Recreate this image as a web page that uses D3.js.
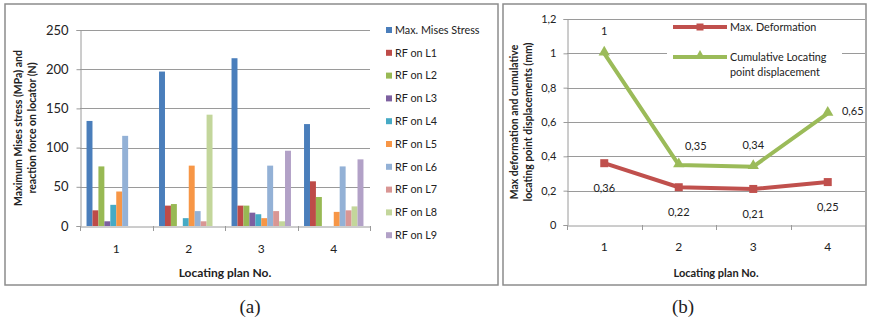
<!DOCTYPE html>
<html>
<head>
<meta charset="utf-8">
<script src="https://cdn.jsdelivr.net/npm/d3@7"></script>
<style>
  html, body { margin: 0; padding: 0; background: #fff; }
  svg { display: block; }
  text { font-family: Lato, "Open Sans", sans-serif; fill: #222; }
  text.caption { font-family: "Liberation Serif", "Times New Roman", serif; }
</style>
</head>
<body>
<svg id="chart" width="869" height="320"></svg>
<script>
// ---- data: panel (a) ----
const plans = ["1", "2", "3", "4"];
const barSeries = ["Max. Mises Stress", "RF on L1", "RF on L2", "RF on L3", "RF on L4",
                   "RF on L5", "RF on L6", "RF on L7", "RF on L8", "RF on L9"];
const maxMises = [134, 197, 214, 130];
const rfL1 = [20, 26, 26, 57];
const rfL2 = [76, 28, 26, 37];
const rfL3 = [6, 0, 17, 0];
const rfL4 = [27, 10, 15, 0];
const rfL5 = [44, 77, 10, 18];
const rfL6 = [115, 19, 77, 76];
const rfL7 = [0, 6, 19, 20];
const rfL8 = [0, 142, 6, 25];
const rfL9 = [0, 0, 96, 85];
const barTicks = [0, 50, 100, 150, 200, 250];

// ---- data: panel (b) ----
const lineSeries = ["Max. Deformation", "Cumulative Locating point displacement"];
const maxDeformation = [0.36, 0.22, 0.21, 0.25];
const cumulativeDisp = [1, 0.35, 0.34, 0.65];
const lineTicks = [0, 0.2, 0.4, 0.6, 0.8, 1, 1.2];

// ---- styling ----
const barColors = ["#4a7ebb", "#be4b48", "#98b954", "#7d60a0", "#46aac5",
                   "#f79646", "#93b1d6", "#d99694", "#c3d69b", "#b2a1c7"];
const lineColors = ["#c0504d", "#9bbb59"];
const gridColor = "#9a9a9a";
const frameColor = "#8c8c8c";

const svg = d3.select("#chart");
const comma = d3.formatLocale({ decimal: ",", thousands: ".", grouping: [3], currency: ["", ""] });
const fmt = v => comma.format("~g")(v);

// panel frames
svg.append("rect").attr("x", 5).attr("y", 4).attr("width", 493).attr("height", 281)
  .attr("fill", "none").attr("stroke", frameColor).attr("stroke-width", 1.5);
svg.append("rect").attr("x", 503).attr("y", 4).attr("width", 363).attr("height", 281)
  .attr("fill", "none").attr("stroke", frameColor).attr("stroke-width", 1.5);

// ================= panel (a): grouped bars =================
const barValues = [maxMises, rfL1, rfL2, rfL3, rfL4, rfL5, rfL6, rfL7, rfL8, rfL9];
const xA = d3.scaleBand().domain(plans).range([80, 370]);
const xA1 = d3.scaleBand().domain(barSeries).range([0, xA.bandwidth()])
  .paddingInner(0).paddingOuter(1.1);
const yA = d3.scaleLinear().domain([0, 250]).range([226, 30]);

const gA = svg.append("g");
// gridlines
gA.append("g").selectAll("line").data(barTicks.filter(t => t > 0)).join("line")
  .attr("x1", 80).attr("x2", 370)
  .attr("y1", d => Math.round(yA(d)) + 0.5).attr("y2", d => Math.round(yA(d)) + 0.5)
  .attr("stroke", gridColor).attr("stroke-width", 1);

// bars
barSeries.forEach((name, si) => {
  gA.append("g").selectAll("rect").data(plans).join("rect")
    .attr("x", p => xA(p) + xA1(name))
    .attr("width", xA1.bandwidth())
    .attr("y", (p, i) => yA(barValues[si][i]))
    .attr("height", (p, i) => yA(0) - yA(barValues[si][i]))
    .attr("fill", barColors[si]);
});

// y axis
const yAxisA = gA.append("g").attr("transform", "translate(80.5,0)")
  .call(d3.axisLeft(yA).tickValues(barTicks).tickSize(4).tickPadding(8));
yAxisA.select(".domain").attr("stroke", gridColor);
yAxisA.selectAll(".tick line").attr("stroke", gridColor);
yAxisA.selectAll(".tick text").attr("font-size", 13).attr("fill", "#222");

// x axis
const xAxisA = gA.append("g").attr("transform", "translate(0,226.5)")
  .call(d3.axisBottom(xA).tickSize(0).tickPadding(18));
xAxisA.select(".domain").attr("stroke", gridColor);
xAxisA.selectAll(".tick text").attr("font-size", 12).attr("fill", "#222");
gA.append("g").selectAll("line").data(plans.concat(["end"])).join("line")
  .attr("x1", (d, i) => Math.round(80 + i * xA.step()) + 0.5)
  .attr("x2", (d, i) => Math.round(80 + i * xA.step()) + 0.5)
  .attr("y1", 226).attr("y2", 231).attr("stroke", gridColor);

// axis titles
gA.append("text").attr("x", 225).attr("y", 277).attr("text-anchor", "middle")
  .attr("font-size", 12).attr("font-weight", "bold").text("Locating plan No.");
const yTitleA = gA.append("text").attr("transform", "translate(22,128) rotate(-90)")
  .attr("text-anchor", "middle").attr("font-size", 10.5).attr("font-weight", "bold");
yTitleA.append("tspan").attr("x", 0).attr("dy", 0).text("Maximum Mises stress (MPa) and");
yTitleA.append("tspan").attr("x", 0).attr("dy", 14).text("reaction force on locator (N)");

// legend
const legA = gA.append("g").selectAll("g").data(barSeries).join("g")
  .attr("transform", (d, i) => `translate(386,${30 + i * 22.8})`);
legA.append("rect").attr("x", 0).attr("y", -3).attr("width", 6).attr("height", 6)
  .attr("fill", (d, i) => barColors[i]);
legA.append("text").attr("x", 9).attr("y", 0).attr("dy", "0.35em")
  .attr("font-size", 10.8).text(d => d);

// caption
svg.append("text").attr("class", "caption").attr("x", 250).attr("y", 313)
  .attr("text-anchor", "middle").attr("font-size", 19).text("(a)");

// ================= panel (b): lines =================
const xB = d3.scaleBand().domain(plans).range([567, 865]);
const yB = d3.scaleLinear().domain([0, 1.2]).range([225, 19]);
const cx = p => xB(p) + xB.bandwidth() / 2;
const gB = svg.append("g");

gB.append("g").selectAll("line").data(lineTicks.filter(t => t > 0)).join("line")
  .attr("x1", 567).attr("x2", 865)
  .attr("y1", d => Math.round(yB(d)) + 0.5).attr("y2", d => Math.round(yB(d)) + 0.5)
  .attr("stroke", gridColor).attr("stroke-width", 1);

const yAxisB = gB.append("g").attr("transform", "translate(567.5,0)")
  .call(d3.axisLeft(yB).tickValues(lineTicks).tickFormat(fmt).tickSize(4).tickPadding(7));
yAxisB.select(".domain").attr("stroke", gridColor);
yAxisB.selectAll(".tick line").attr("stroke", gridColor);
yAxisB.selectAll(".tick text").attr("font-size", 11).attr("fill", "#222");

const xAxisB = gB.append("g").attr("transform", "translate(0,225.5)")
  .call(d3.axisBottom(xB).tickSize(0).tickPadding(17));
xAxisB.select(".domain").attr("stroke", gridColor);
xAxisB.selectAll(".tick text").attr("font-size", 12).attr("fill", "#222");
gB.append("g").selectAll("line").data(plans.concat(["end"])).join("line")
  .attr("x1", (d, i) => Math.round(567 + i * xB.step()) + 0.5)
  .attr("x2", (d, i) => Math.round(567 + i * xB.step()) + 0.5)
  .attr("y1", 225).attr("y2", 230).attr("stroke", gridColor);

gB.append("text").attr("x", 716).attr("y", 277).attr("text-anchor", "middle")
  .attr("font-size", 11).attr("font-weight", "bold").text("Locating plan No.");
const yTitleB = gB.append("text").attr("transform", "translate(518,122) rotate(-90)")
  .attr("text-anchor", "middle").attr("font-size", 10.5).attr("font-weight", "bold");
yTitleB.append("tspan").attr("x", 0).attr("dy", 0).text("Max deformation and cumulative");
yTitleB.append("tspan").attr("x", 0).attr("dy", 14).text("locating point displacements (mm)");

// legend (white box over the plot)
gB.append("rect").attr("x", 667).attr("y", 20).attr("width", 175).attr("height", 60).attr("fill", "#fff");
const legB = gB.append("g");
legB.append("line").attr("x1", 673).attr("x2", 727).attr("y1", 27).attr("y2", 27)
  .attr("stroke", lineColors[0]).attr("stroke-width", 4);
legB.append("rect").attr("x", 696.5).attr("y", 23.5).attr("width", 7).attr("height", 7).attr("fill", lineColors[0]);
legB.append("text").attr("x", 730).attr("y", 27).attr("dy", "0.35em").attr("font-size", 10.8).text(lineSeries[0]);
legB.append("line").attr("x1", 673).attr("x2", 727).attr("y1", 57).attr("y2", 57)
  .attr("stroke", lineColors[1]).attr("stroke-width", 4);
legB.append("path").attr("d", d3.symbol(d3.symbolTriangle, 45)()).attr("transform", "translate(700,56)")
  .attr("fill", lineColors[1]);
const lt = legB.append("text").attr("x", 730).attr("y", 57).attr("dy", "0.35em").attr("font-size", 10.8);
lt.append("tspan").text("Cumulative Locating");
lt.append("tspan").attr("x", 730).attr("dy", 15).text("point displacement");

// series lines
const line = d3.line().x((d, i) => cx(plans[i])).y(d => yB(d));
gB.append("path").datum(maxDeformation).attr("d", line).attr("fill", "none")
  .attr("stroke", lineColors[0]).attr("stroke-width", 4).attr("stroke-linejoin", "round");
gB.append("path").datum(cumulativeDisp).attr("d", line).attr("fill", "none")
  .attr("stroke", lineColors[1]).attr("stroke-width", 4).attr("stroke-linejoin", "round");

// markers
gB.append("g").selectAll("rect").data(maxDeformation).join("rect")
  .attr("x", (d, i) => cx(plans[i]) - 4).attr("y", d => yB(d) - 4)
  .attr("width", 8).attr("height", 8).attr("fill", lineColors[0]);
gB.append("g").selectAll("path").data(cumulativeDisp).join("path")
  .attr("d", d3.symbol(d3.symbolTriangle, 55)())
  .attr("transform", (d, i) => `translate(${cx(plans[i])},${yB(d) - 1})`)
  .attr("fill", lineColors[1]);

// data labels
gB.append("g").selectAll("text").data(maxDeformation).join("text")
  .attr("x", (d, i) => cx(plans[i])).attr("y", d => yB(d) + 25).attr("dy", "0.35em")
  .attr("text-anchor", "middle").attr("font-size", 11).text(fmt);
const greenLabelShift = [[0, -22], [17, -19], [0, -21], [25, -2]];
gB.append("g").selectAll("text").data(cumulativeDisp).join("text")
  .attr("x", (d, i) => cx(plans[i]) + greenLabelShift[i][0])
  .attr("y", (d, i) => yB(d) + greenLabelShift[i][1]).attr("dy", "0.35em")
  .attr("text-anchor", "middle").attr("font-size", 11).text(fmt);

svg.append("text").attr("class", "caption").attr("x", 683).attr("y", 313)
  .attr("text-anchor", "middle").attr("font-size", 19).text("(b)");
</script>
</body>
</html>
